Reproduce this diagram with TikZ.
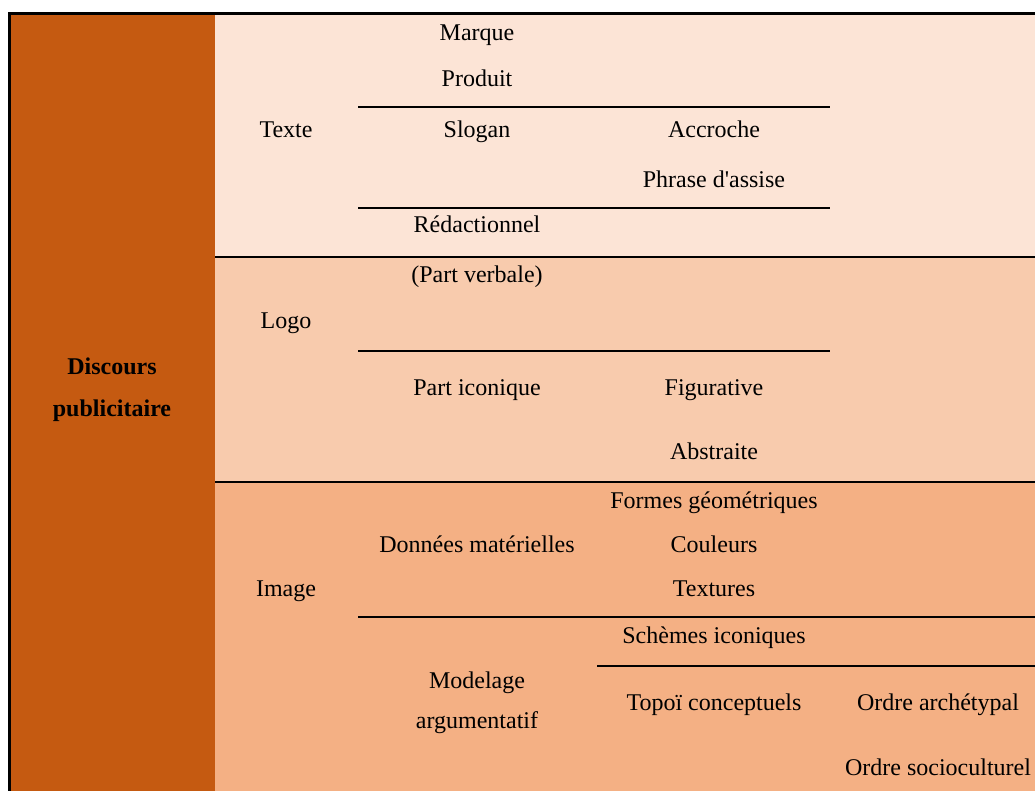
\documentclass[tikz,border=0pt]{standalone}
\usepackage{fontspec}
\setmainfont{Liberation Serif}
\usetikzlibrary{calc,positioning}
\definecolor{brun}{HTML}{C55A11}
\definecolor{texteclair}{HTML}{FCE4D6}
\definecolor{logomoyen}{HTML}{F8CBAD}
\definecolor{imagefonce}{HTML}{F4B084}

\begin{document}
\begin{tikzpicture}[x=1pt,y=-1pt,
    lbl/.style={anchor=base,inner sep=0pt,font=\fontsize{24}{28}\selectfont},
    trait/.style={line width=1.4pt},
    epais/.style={line width=2.8pt}]

    \useasboundingbox (0,0) rectangle (1035,791);

    % bandes de couleur
    \fill[texteclair] (215,13.5) rectangle (1035,257);
    \fill[logomoyen] (215,257) rectangle (1035,482);
    \fill[imagefonce] (215,482) rectangle (1035,791);
    \fill[brun] (9.5,13.5) rectangle (215,791);

    % cadre et separations
    \draw[epais] (9.5,791) -- (9.5,13.5) -- (1035,13.5);
    \draw[epais] (215,257) -- (1035,257);
    \draw[epais] (215,482) -- (1035,482);
    \draw[trait] (358,107) -- (830,107);
    \draw[trait] (358,208) -- (830,208);
    \draw[trait] (358,351) -- (830,351);
    \draw[trait] (358,617) -- (1035,617);
    \draw[trait] (597,666) -- (1035,666);

    \node[lbl,anchor=center,align=center,font=\fontsize{24}{42}\selectfont\bfseries]
      (discours) at (112,389.5) {Discours\\publicitaire};

    % Texte
    \node[lbl] (texte) at (286,138) {Texte};
    \node[lbl] (marque) at (477,41) {Marque};
    \node[lbl] (produit) at (477,87) {Produit};
    \node[lbl] (slogan) at (477,138) {Slogan};
    \node[lbl] (redac) at (477,233) {Rédactionnel};
    \node[lbl] (accroche) at (714,138) {Accroche};
    \node[lbl] (assise) at (714,188) {Phrase d\textquotesingle assise};

    % Logo
    \node[lbl] (logo) at (286,328) {Logo};
    \node[lbl] (verbale) at (477,283) {(Part verbale)};
    \node[lbl] (iconique) at (477,395) {Part iconique};
    \node[lbl] (figurative) at (714,395) {Figurative};
    \node[lbl] (abstraite) at (714,459) {Abstraite};

    % Image
    \node[lbl] (image) at (286,596) {Image};
    \node[lbl] (donnees) at (477,552) {Données matérielles};
    \node[lbl] (formes) at (714,508) {Formes géométriques};
    \node[lbl] (couleurs) at (714,552) {Couleurs};
    \node[lbl] (textures) at (714,596) {Textures};
    \node[lbl,anchor=center,align=center,font=\fontsize{24}{40}\selectfont]
      (modelage) at (477,703) {Modelage\\argumentatif};
    \node[lbl] (schemes) at (714,643) {Schèmes iconiques};
    \node[lbl] (topoi) at (714,710) {Topoï conceptuels};
    \node[lbl] (archetypal) at (938,710) {Ordre archétypal};
    \node[lbl] (socioculturel) at (938,775) {Ordre socioculturel};

\end{tikzpicture}
\end{document}
